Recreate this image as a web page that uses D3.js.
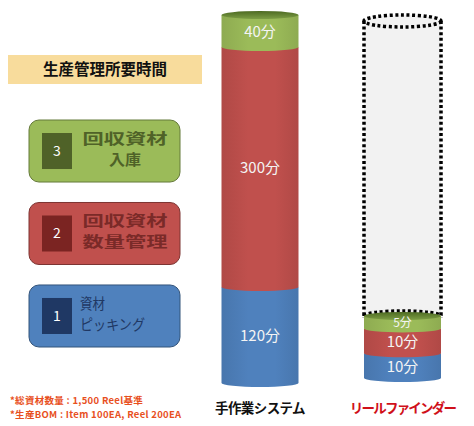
<!DOCTYPE html>
<html><head><meta charset="utf-8">
<script src="https://cdn.jsdelivr.net/npm/d3@7"></script>
<style>
html,body{margin:0;padding:0;background:#fff;}
svg{display:block;font-family:"Noto Sans CJK JP","Noto Sans",sans-serif;}
</style></head>
<body>
<svg id="c" width="474" height="426"></svg>
<script>
// ---- data ----
const systems = ["手作業システム", "リールファインダー"];
const steps = ["資材ピッキング", "回収資材数量管理", "回収資材入庫"];
const stepNumbers = ["1", "2", "3"];
const stepLines = [["資材", "ピッキング"], ["回収資材", "数量管理"], ["回収資材", "入庫"]];
const manualMinutes = [120, 300, 40];
const reelMinutes = [10, 10, 5];
const unit = "分";
const title = "生産管理所要時間";
const notes = ["*総資材数量 : 1,500 Reel基準", "*生産BOM : Item 100EA, Reel 200EA"];

// ---- styles ----
const fills = ["#4f81bd", "#c0504d", "#9bbb59"];
const darks = ["#1f3864", "#7b2422", "#4f6228"];
const textCols = ["#1f3864", "#7a2a28", "#4f6228"];
const lineWidths = [[25, 65], [85, 85], [85, 32]];

const svg = d3.select("#c");
const defs = svg.append("defs");
fills.forEach((c, i) => {
  const g = defs.append("linearGradient").attr("id", "g" + i).attr("x1", 0).attr("x2", 1).attr("y1", 0).attr("y2", 0);
  const dk = d3.color(c).darker(0.25).formatHex();
  g.append("stop").attr("offset", "0%").attr("stop-color", dk);
  g.append("stop").attr("offset", "35%").attr("stop-color", c);
  g.append("stop").attr("offset", "70%").attr("stop-color", c);
  g.append("stop").attr("offset", "100%").attr("stop-color", dk);
});
const tg = defs.append("linearGradient").attr("id", "topg").attr("x1", 0).attr("x2", 0).attr("y1", 0).attr("y2", 1);
tg.append("stop").attr("offset", "0%").attr("stop-color", "#4d6a22");
tg.append("stop").attr("offset", "100%").attr("stop-color", "#7d9e45");

// ---- scales ----
const x = d3.scalePoint().domain(systems).range([260, 402.5]);
const yManual = d3.scaleLinear().domain([0, d3.sum(manualMinutes)]).range([383, 15]);
const yReel = d3.scaleLinear().domain([0, d3.sum(reelMinutes)]).range([378, 316]);
const barW = 77, ry = 4;

function stackOf(vals) {
  let acc = 0;
  return vals.map((v, i) => { const s = { i, v, y0: acc, y1: acc + v }; acc += v; return s; });
}

// ---- ghost cylinder fill (behind) ----
const gx = x(systems[1]);
const gTop = yManual(d3.sum(manualMinutes)) + 6, gBot = yReel(d3.sum(reelMinutes));
const gry = 6, grx = barW / 2;
const ghostFill = svg.append("g");
ghostFill.append("rect").attr("x", gx - grx).attr("y", gTop).attr("width", 2 * grx).attr("height", gBot - gTop)
  .attr("fill", "#f2f2f2");
ghostFill.append("ellipse").attr("cx", gx).attr("cy", gTop).attr("rx", grx).attr("ry", gry).attr("fill", "#f2f2f2");

// ---- cylinders ----
function drawCylinder(sys, vals, y, fs) {
  const cx = x(sys), rx = barW / 2;
  const g = svg.append("g");
  const st = stackOf(vals);
  st.forEach(s => {
    const yb = y(s.y0), yt = y(s.y1);
    g.append("path")
      .attr("d", `M${cx - rx},${yt} L${cx - rx},${yb} A${rx},${ry} 0 0 0 ${cx + rx},${yb} L${cx + rx},${yt} Z`)
      .attr("fill", `url(#g${s.i})`);
  });
  const topY = y(d3.sum(vals));
  g.append("ellipse").attr("cx", cx).attr("cy", topY).attr("rx", rx).attr("ry", ry).attr("fill", "url(#topg)");
  return { g, st, cx, y, fs };
}
const c1 = drawCylinder(systems[0], manualMinutes, yManual, 15);
const c2 = drawCylinder(systems[1], reelMinutes, yReel, 15);

// ---- ghost dotted outline ----
const ghost = svg.append("g").attr("fill", "none").attr("stroke", "#000")
  .attr("stroke-width", 3.5).attr("stroke-dasharray", "3 2.6");
ghost.append("ellipse").attr("cx", gx).attr("cy", gTop).attr("rx", grx).attr("ry", gry);
ghost.append("line").attr("x1", gx - grx).attr("x2", gx - grx).attr("y1", gTop).attr("y2", gBot + 2);
ghost.append("line").attr("x1", gx + grx).attr("x2", gx + grx).attr("y1", gTop).attr("y2", gBot + 2);
ghost.append("path").attr("d", `M${gx - grx},${gBot} A${grx},${gry - 1} 0 0 1 ${gx + grx},${gBot}`);

// ---- value labels ----
[c1, c2].forEach(c => {
  c.st.forEach(s => {
    const h = Math.abs(c.y(s.y0) - c.y(s.y1));
    c.g.append("text").attr("x", c.cx).attr("y", (c.y(s.y0) + c.y(s.y1)) / 2 + (s.i === 2 ? ry / 2 : 2))
      .attr("text-anchor", "middle").attr("dominant-baseline", "middle")
      .attr("fill", "#f4f4f4").attr("font-size", h < 16 ? 12 : c.fs)
      .text(s.v + unit);
  });
  svg.node().appendChild(c.g.node());
});

// ---- system labels ----
svg.selectAll("text.sys").data(systems).enter().append("text")
  .attr("x", d => x(d)).attr("y", 409).attr("text-anchor", "middle").attr("dominant-baseline", "middle")
  .attr("font-size", 13.5).attr("font-weight", "bold")
  .attr("letter-spacing", (d, i) => i === 0 ? -0.6 : -1.8)
  .attr("fill", (d, i) => i === 0 ? "#111" : "#d0101a")
  .text(d => d);

// ---- title box ----
svg.append("rect").attr("x", 8).attr("y", 55).attr("width", 194).attr("height", 29).attr("fill", "#f8dc9c");
svg.append("text").attr("x", 105).attr("y", 71).attr("text-anchor", "middle").attr("dominant-baseline", "middle")
  .attr("font-size", 15.5).attr("font-weight", "bold").attr("fill", "#111").text(title);

// ---- step boxes ----
const boxY = d3.scaleBand().domain(steps.slice().reverse()).range([120, 347]).paddingInner(0.248);
steps.forEach((s, i) => {
  const by = boxY(s), bh = boxY.bandwidth();
  const g = svg.append("g");
  g.append("rect").attr("x", 29).attr("y", by).attr("width", 151).attr("height", bh).attr("rx", 10)
    .attr("fill", fills[i]).attr("stroke", d3.color(fills[i]).darker(1.2).formatHex()).attr("stroke-width", 1);
  g.append("rect").attr("x", 42).attr("y", by + bh / 2 - 18).attr("width", 30).attr("height", 36).attr("fill", darks[i]);
  g.append("text").attr("x", 57).attr("y", by + bh / 2 + 1).attr("text-anchor", "middle").attr("dominant-baseline", "middle")
    .attr("fill", "#fff").attr("font-size", 14).text(stepNumbers[i]);
  const lines = stepLines[i];
  const anchorLeft = i === 0;
  lines.forEach((ln, k) => {
    g.append("text")
      .attr("x", anchorLeft ? 80 : 125)
      .attr("y", by + bh / 2 + (k === 0 ? -11 : 10))
      .attr("text-anchor", anchorLeft ? "start" : "middle").attr("dominant-baseline", "middle")
      .attr("fill", textCols[i]).attr("font-size", 14.5)
      .attr("font-weight", anchorLeft ? "normal" : "bold")
      .attr("textLength", lineWidths[i][k]).attr("lengthAdjust", "spacingAndGlyphs")
      .text(ln);
  });
});

// ---- notes ----
notes.forEach((n, i) => {
  svg.append("text").attr("x", 10).attr("y", 401 + i * 14).attr("dominant-baseline", "middle")
    .attr("font-size", 9.5).attr("font-weight", "bold").attr("letter-spacing", 0.3)
    .attr("fill", "#e8501e").text(n);
});
</script>
</body></html>
